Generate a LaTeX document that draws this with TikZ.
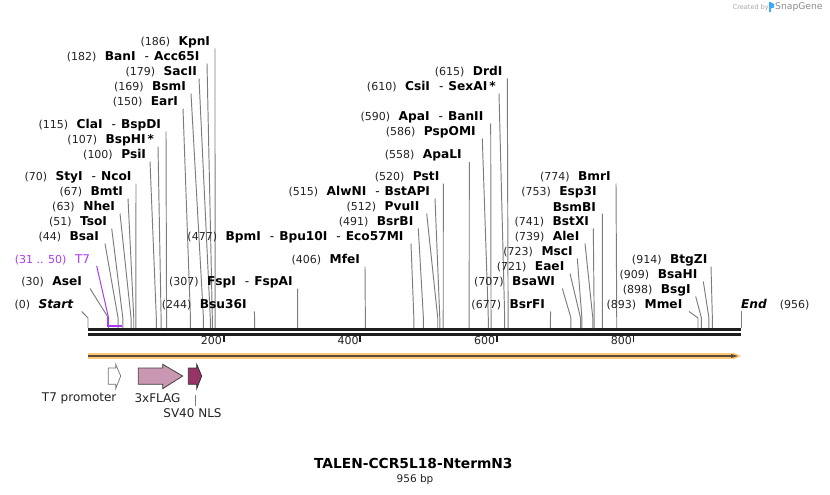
\documentclass[tikz,border=0pt]{standalone}
\usepackage{fontspec}
\setmainfont{DejaVu Sans}
\usetikzlibrary{arrows.meta}
\definecolor{numc}{HTML}{222222}
\definecolor{cutc}{HTML}{7C7C7C}
\definecolor{purp}{HTML}{A83CF0}
\definecolor{bbc}{HTML}{1E1E1E}
\definecolor{orng}{HTML}{FBC976}
\definecolor{orngd}{HTML}{5C4B3B}
\definecolor{flagc}{HTML}{C997B2}
\definecolor{nlsc}{HTML}{983465}
\definecolor{logoc}{HTML}{3FA9F5}
\newcommand\numtxt[1]{{\fontsize{11}{13}\selectfont\color{numc}#1}}
\newcommand\nametxt[1]{{\fontsize{12.2}{14}\selectfont\bfseries #1}}
\newcommand\dsh{\hspace{9pt}{\mdseries-}\hspace{5pt}}
% #1 id, #2 label end x, #3 label y, #4 number, #5 name, #6 bp, #7 line top x
\newcommand\enzyme[7]{%
  \node[lbl, anchor=east] (#1) at (#2,#3) {\numtxt{(#4)}\hspace{8.5pt}\nametxt{#5}};
  \coordinate (#1-top) at (#7,{#3+6.5});
  \coordinate (#1-kink) at ({88+0.6831*#6},318);
  \coordinate (#1-site) at ({88+0.6831*#6},328);
  \draw[cut] (#1-top) -- (#1-kink) -- (#1-site);
}
\begin{document}
\begin{tikzpicture}[x=1pt,y=-1pt,
  lbl/.style={inner sep=0pt, outer sep=0pt},
  cut/.style={draw=cutc, line width=0.95pt},
  featlbl/.style={inner sep=0pt, font=\fontsize{12}{14}\selectfont, text=numc},
  tickmark/.style={draw=bbc, line width=1.8pt},
  ticklbl/.style={inner sep=0pt, anchor=east, font=\fontsize{11}{13}\selectfont, text=numc}]
\useasboundingbox (0,0) rectangle (830,495);

% backbone
\coordinate (bbL) at (88,329.5);
\coordinate (bbR) at (741,329.5);
\coordinate (bbL2) at (88,334.5);
\coordinate (bbR2) at (741,334.5);
\draw[bbc, line width=2.6pt] (bbL) -- (bbR);
\draw[bbc, line width=2.6pt] (bbL2) -- (bbR2);

% ticks
\foreach \v/\t in {200/t200,400/t400,600/t600,800/t800}{
  \coordinate (\t-a) at ({87+0.6831*\v},335);
  \coordinate (\t-b) at ({87+0.6831*\v},341.5);
  \draw[tickmark] (\t-a) -- (\t-b);
  \node[ticklbl] (\t-l) at ({85.5+0.6831*\v},340.5) {\v};
}

% enzymes, left cluster
\enzyme{KpnI}{210}{42}{186}{KpnI}{186}{215}
\enzyme{BanI}{199.5}{57}{182}{BanI\dsh Acc65I}{182}{207}
\enzyme{SacII}{197}{72}{179}{SacII}{179}{199}
\enzyme{BsmI}{186}{87}{169}{BsmI}{169}{191}
\enzyme{EarI}{178}{102}{150}{EarI}{150}{183}
\enzyme{ClaI}{161}{125}{115}{ClaI\dsh BspDI}{115}{166}
\enzyme{BspHI}{154}{140}{107}{BspHI\hspace{2pt}*}{107}{158}
\enzyme{PsiI}{146}{155}{100}{PsiI}{100}{150}
\enzyme{StyI}{131.5}{177}{70}{StyI\dsh NcoI}{70}{136}
\enzyme{BmtI}{123}{192}{67}{BmtI}{67}{128}
\enzyme{NheI}{115}{207}{63}{NheI}{63}{120}
\enzyme{TsoI}{107}{222}{51}{TsoI}{51}{111.7}
\enzyme{BsaI}{99}{237}{44}{BsaI}{44}{105}
\enzyme{AseI}{82}{282}{30}{AseI}{30}{90}
\enzyme{Start}{73.3}{305}{0}{\itshape Start}{0}{81.7}

% T7 site (purple)
\node[lbl, anchor=east, text=purp] (T7) at (90,259.5) {{\fontsize{11}{13}\selectfont(31 .. 50)}\hspace{8.5pt}{\fontsize{12}{14}\selectfont T7}};
\coordinate (T7-top) at (96.7,266);
\coordinate (T7-k) at (108.3,316.7);
\coordinate (T7-a) at (108.3,325.7);
\coordinate (T7-b) at (122.2,325.7);
\draw[purp, line width=1pt] (T7-top) -- (T7-k);
\draw[purp, line width=1.8pt] (T7-k) -- (T7-a) -- (T7-b);

% middle cluster
\enzyme{BpmI}{403.5}{237}{477}{BpmI\dsh Bpu10I\dsh Eco57MI}{477}{411}
\enzyme{FspI}{292.7}{282}{307}{FspI\dsh FspAI}{307}{297.7}
\enzyme{Bsu36I}{246.7}{305}{244}{Bsu36I}{244}{254.3}
\enzyme{MfeI}{360}{260}{406}{MfeI}{406}{365}
\enzyme{AlwNI}{430}{192}{515}{AlwNI\dsh BstAPI}{515}{435}
\enzyme{PvuII}{419.3}{207}{512}{PvuII}{512}{426.7}
\enzyme{BsrBI}{413.3}{222}{491}{BsrBI}{491}{418.3}
\enzyme{PstI}{439.3}{177}{520}{PstI}{520}{443.3}
\enzyme{ApaLI}{461.7}{155.5}{558}{ApaLI}{558}{469.3}
\enzyme{PspOMI}{475.7}{132}{586}{PspOMI}{586}{482.3}
\enzyme{ApaI}{483.3}{117}{590}{ApaI\dsh BanII}{590}{490.7}
\enzyme{CsiI}{495.7}{87}{610}{CsiI\dsh SexAI\hspace{2pt}*}{610}{499}
\enzyme{DrdI}{502.3}{72}{615}{DrdI}{615}{507.3}

% right cluster
\enzyme{BmrI}{610.7}{177}{774}{BmrI}{774}{616}
\node[lbl, anchor=east] (Esp3I) at (596.7,192) {\numtxt{(753)}\hspace{8.5pt}\nametxt{Esp3I}};
\node[lbl, anchor=east] (BsmBI) at (596,207) {\nametxt{BsmBI}};
\coordinate (BsmBI-top) at (602.3,213.5);
\coordinate (BsmBI-site) at ({88+0.6831*753},328);
\draw[cut] (BsmBI-top) -- (BsmBI-site);
\enzyme{BstXI}{589}{222}{741}{BstXI}{741}{593.3}
\enzyme{AleI}{579.3}{237}{739}{AleI}{739}{585}
\enzyme{MscI}{572.7}{252}{723}{MscI}{723}{577.3}
\enzyme{EaeI}{564.3}{267}{721}{EaeI}{721}{570}
\enzyme{BsaWI}{555}{282}{707}{BsaWI}{707}{562.3}
\enzyme{BsrFI}{545}{305}{677}{BsrFI}{677}{550.7}
\enzyme{MmeI}{682.3}{305}{893}{MmeI}{893}{689}
\enzyme{BsgI}{690.7}{290}{898}{BsgI}{898}{695.7}
\enzyme{BsaHI}{697.3}{275}{909}{BsaHI}{909}{703.3}
\enzyme{BtgZI}{707.3}{260}{914}{BtgZI}{914}{711}

% End
\node[lbl, anchor=west] (End) at (741,305) {\nametxt{\itshape End}\hspace{13pt}\numtxt{(956)}};
\coordinate (End-top) at (741,310.7);
\coordinate (End-site) at (741,328);
\draw[cut] (End-top) -- (End-site);

% feature bar
\coordinate (fbL) at (88,356);
\coordinate (fbR) at (741,356);
\coordinate (fbM) at (733,356);
\fill[orng] (88,353.3) rectangle (733,358.7);
\fill[orng] (733,352.5) -- (741,356) -- (733,359.5) -- cycle;
\draw[orngd, line width=2.2pt] (fbL) -- (fbM);
\fill[orngd] (731,354) -- (738,356) -- (731,358) -- cycle;

% features
\draw[draw=gray!90!black, fill=white, line width=0.7pt]
  (108.3,368) -- (115.7,368) -- (115.7,364.3) -- (120.7,376) -- (115.7,388.7) -- (115.7,384.3) -- (108.3,384.3) -- cycle;
\draw[draw=black!75, fill=flagc, line width=0.8pt]
  (138.3,368) -- (162.7,368) -- (162.7,364.3) -- (182.7,376) -- (162.7,388.7) -- (162.7,384.3) -- (138.3,384.3) -- cycle;
\draw[draw=black!80, fill=nlsc, line width=0.8pt]
  (188.3,368) -- (196.7,368) -- (196.7,364.3) -- (201.7,376) -- (196.7,388.7) -- (196.7,384.3) -- (188.3,384.3) -- cycle;

\node[featlbl] (t7lbl) at (79.2,398) {T7 promoter};
\node[featlbl] (flaglbl) at (157.5,398) {3xFLAG};
\node[featlbl] (nlslbl) at (192.5,413.5) {SV40 NLS};
\coordinate (nls-a) at (195.3,395);
\coordinate (nls-b) at (195.3,406);
\draw[cutc, line width=0.7pt] (nls-a) -- (nls-b);

% title
\node[inner sep=0pt, font=\fontsize{13.8}{16}\selectfont\bfseries] (title) at (413.3,463.5) {TALEN-CCR5L18-NtermN3};
\node[inner sep=0pt, font=\fontsize{10.5}{12}\selectfont, text=numc] (bp) at (415,480) {956 bp};

% credit
\node[inner sep=0pt, anchor=west, font=\fontsize{6.5}{8}\selectfont, text=black!35] (cr) at (732.7,7.5) {Created by};
\fill[logoc] (768.5,2.5) rectangle (771,12.5);
\fill[logoc] (771,2.5) -- (774,4) -- (774,7.5) -- (771,8.5) -- cycle;
\node[inner sep=0pt, anchor=west, font=\fontsize{9.2}{11}\selectfont, text=black!45] (sg) at (775,7.5) {SnapGene};
\end{tikzpicture}
\end{document}
